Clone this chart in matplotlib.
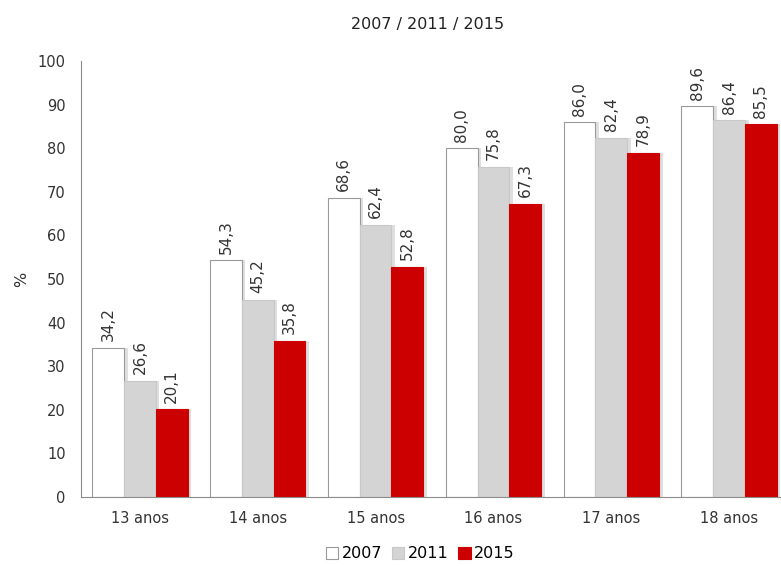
import matplotlib.pyplot as plt
import numpy as np

plt.rcParams['font.family'] = ['DejaVu Sans']

categories = ['13 anos', '14 anos', '15 anos', '16 anos', '17 anos', '18 anos']
years = ['2007', '2011', '2015']
v2007 = [34.2, 54.3, 68.6, 80.0, 86.0, 89.6]
v2011 = [26.6, 45.2, 62.4, 75.8, 82.4, 86.4]
v2015 = [20.1, 35.8, 52.8, 67.3, 78.9, 85.5]
yticks = [0, 10, 20, 30, 40, 50, 60, 70, 80, 90, 100]

colors = ['#ffffff', '#d4d4d4', '#cc0000']
edges = ['#9a9a9a', '#c8c8c8', '#cc0000']
series = [v2007, v2011, v2015]

fig = plt.figure(figsize=(7.81, 5.66), dpi=100)
# the last category runs past the right edge of the picture, as in the original
ax = fig.add_axes([81 / 781, 1 - 497 / 566, 707 / 781, 436 / 566])

x = np.arange(len(categories))
width = 0.27
offsets = [-width, 0, width]

for vals, col, ec, off, lab in zip(series, colors, edges, offsets, years):
    pos = x + off
    # soft shadow behind each bar
    ax.bar(pos + 0.03, vals, width, color='#b8b8b8', alpha=0.45, zorder=1)
    ax.bar(pos, vals, width, color=col, edgecolor=ec, linewidth=0.8,
           label=lab, zorder=2)
    for p, v in zip(pos, vals):
        ax.text(p, v + 1.5, f'{v:.1f}'.replace('.', ','), rotation=90,
                ha='center', va='bottom', fontsize=11, color='#333333')

ax.set_xlim(-0.5, len(categories) - 0.5)
ax.set_ylim(0, 100)
ax.set_yticks(yticks)
ax.set_xticks(x)
ax.set_xticklabels(categories)
ax.tick_params(axis='both', length=0, labelsize=10.5, colors='#333333')
ax.tick_params(axis='x', pad=10)
ax.tick_params(axis='y', pad=11)
for s in ['top', 'right']:
    ax.spines[s].set_visible(False)
ax.spines['left'].set_color('#8c8c8c')
ax.spines['bottom'].set_color('#8c8c8c')
ax.set_ylabel('%', fontsize=11.5, color='#333333', labelpad=6)

fig.text(428 / 781, 1 - 25 / 566, '2007 / 2011 / 2015', ha='center',
         va='center', fontsize=11.5, color='#222222')

leg = fig.legend(loc='center', bbox_to_anchor=(420 / 781, 1 - 554 / 566),
                 ncol=3, frameon=False, fontsize=11.5, handlelength=0.8,
                 handleheight=0.8, handletextpad=0.2, columnspacing=0.6)

fig.savefig('out.png', dpi=100)
